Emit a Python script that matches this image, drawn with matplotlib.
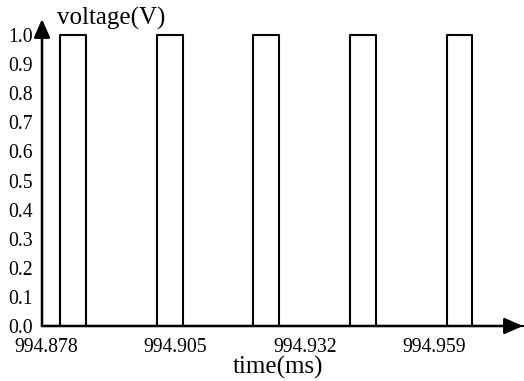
import matplotlib
matplotlib.use("Agg")
import matplotlib.pyplot as plt
import numpy as np

# Data
rise_times = [994.88092, 994.90114, 994.92116, 994.94139, 994.96161]
fall_times = [994.88634, 994.90657, 994.92658, 994.94681, 994.96682]
high_level = 1.0
low_level = 0.0
x_ticks = [994.878, 994.905, 994.932, 994.959]
x_tick_labels = ["994.878", "994.905", "994.932", "994.959"]
y_ticks = [0.0, 0.1, 0.2, 0.3, 0.4, 0.5, 0.6, 0.7, 0.8, 0.9, 1.0]
y_tick_labels = ["0.0", "0.1", "0.2", "0.3", "0.4", "0.5", "0.6", "0.7", "0.8", "0.9", "1.0"]
x_label = "time(ms)"
y_label = "voltage(V)"

plt.rcParams['font.family'] = ['Liberation Serif', 'DejaVu Serif']

W, H = 524, 381
fig = plt.figure(figsize=(W / 100, H / 100), dpi=100)

x0, y0, x1, y1 = 42, 326, 523, 19  # pixel bounds of the axes
ax = fig.add_axes([x0 / W, (H - y0) / H, (x1 - x0) / W, (y0 - y1) / H])

xmin = 994.87717
xmax = 994.97746
ax.set_xlim(xmin, xmax)
ax.set_ylim(0, 1.055)

# Build the square-wave trace from the read edges
xs = [xmin]
ys = [low_level]
for r, f in zip(rise_times, fall_times):
    xs += [r, r, f, f]
    ys += [low_level, high_level, high_level, low_level]
xs.append(xmax)
ys.append(low_level)
ax.plot(xs, ys, color='black', lw=1.5, clip_on=False)

for s in ax.spines.values():
    s.set_visible(False)

ax.set_xticks(x_ticks)
ax.set_xticklabels(x_tick_labels, fontsize=14.2)
ax.set_yticks(y_ticks)
ax.set_yticklabels(y_tick_labels, fontsize=14.2)
ax.tick_params(axis='both', length=0)
ax.tick_params(axis='y', pad=6.5)
ax.tick_params(axis='x', pad=9)

# Arrow axes
arrow_kw = dict(arrowstyle='-|>,head_length=0.8,head_width=0.35', color='black',
                lw=1.8, shrinkA=0, shrinkB=0, mutation_scale=14)
ax.annotate('', xy=(1, 0), xytext=(0, 0), xycoords='axes fraction',
            textcoords='axes fraction', arrowprops=arrow_kw, annotation_clip=False)
ax.annotate('', xy=(0, 1), xytext=(0, 0), xycoords='axes fraction',
            textcoords='axes fraction', arrowprops=arrow_kw, annotation_clip=False)

fig.text(57 / W, (H - 25) / H, y_label, fontsize=18, ha='left', va='baseline')
fig.text(278 / W, (H - 374) / H, x_label, fontsize=18, ha='center', va='baseline')

fig.savefig('out.png', dpi=100)
